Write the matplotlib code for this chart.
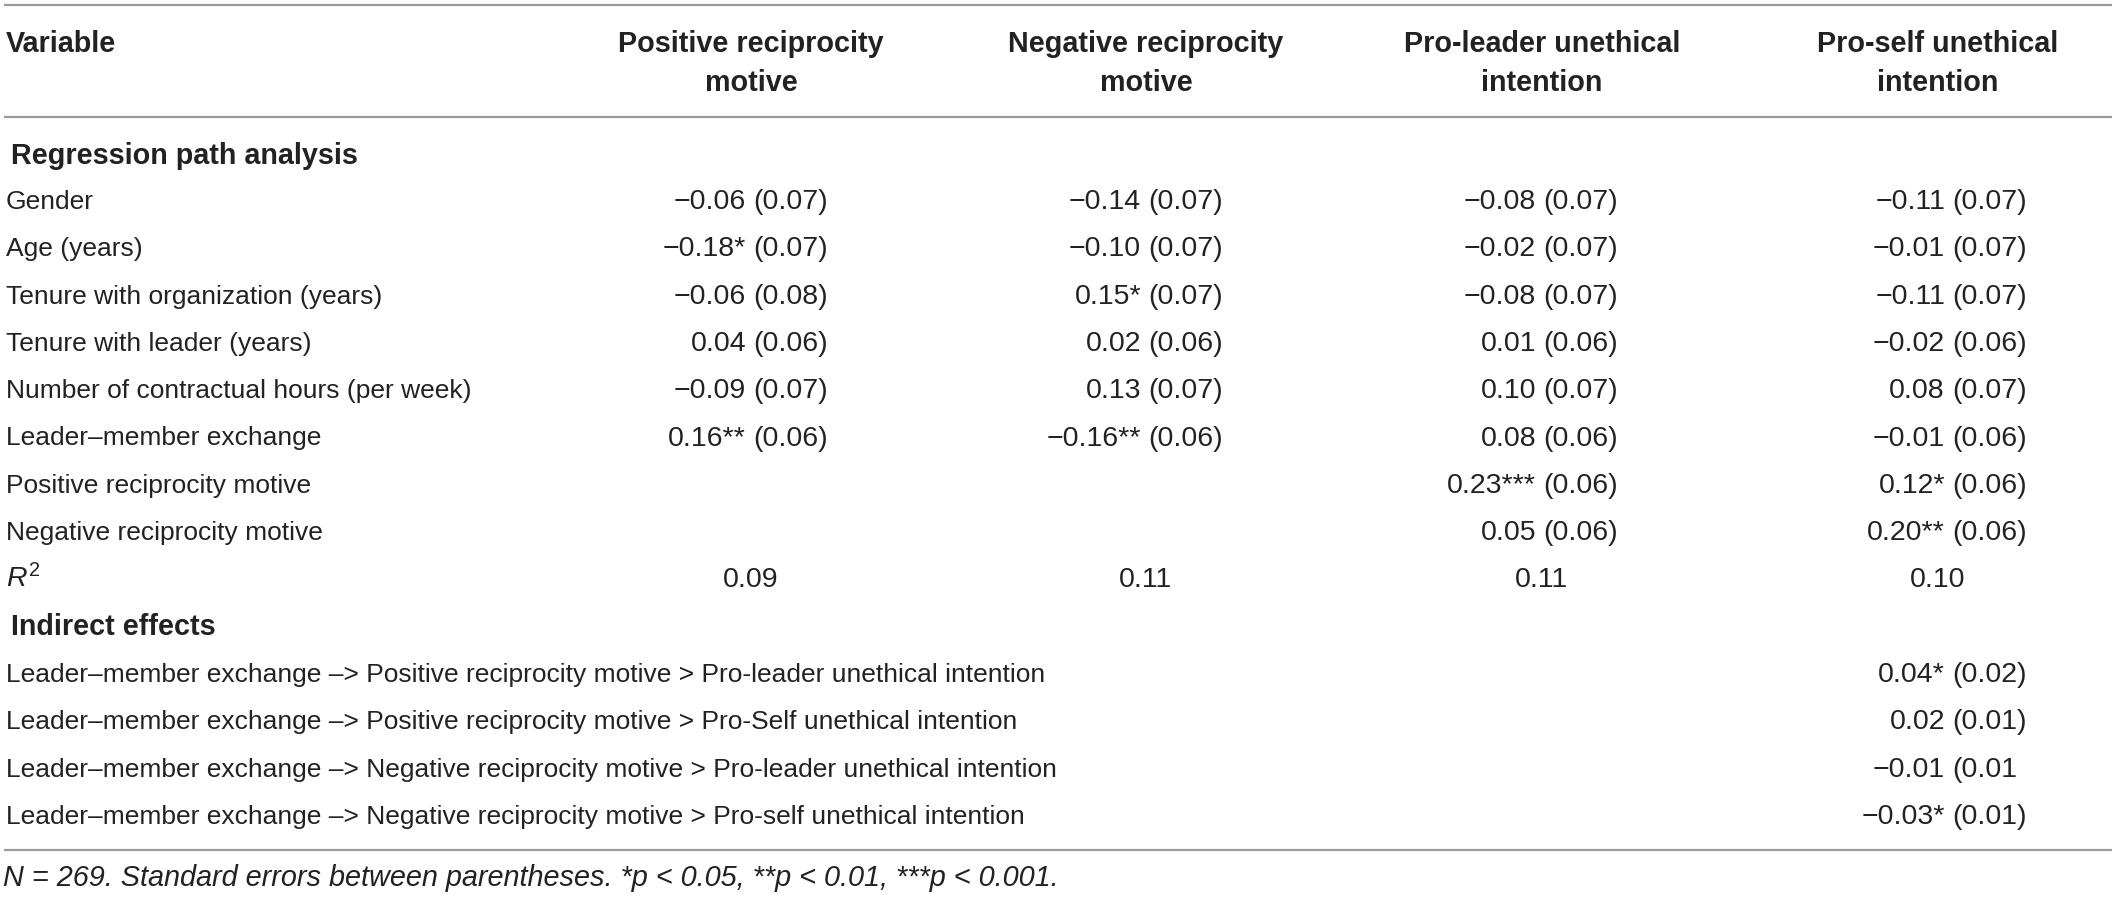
import matplotlib
matplotlib.use("Agg")
import matplotlib.pyplot as plt

plt.rcParams["font.family"] = ["Liberation Sans", "DejaVu Sans"]
plt.rcParams["mathtext.fontset"] = "custom"
plt.rcParams["mathtext.rm"] = "Liberation Sans"
plt.rcParams["mathtext.it"] = "Liberation Sans:italic"

# table content
col_headers = ["Positive reciprocity\nmotive", "Negative reciprocity\nmotive",
               "Pro-leader unethical\nintention", "Pro-self unethical\nintention"]
row_labels = ["Gender", "Age (years)", "Tenure with organization (years)",
              "Tenure with leader (years)", "Number of contractual hours (per week)",
              "Leader\u2013member exchange", "Positive reciprocity motive",
              "Negative reciprocity motive"]

# coefficient strings, one list per outcome column ("" = empty cell)
pos_coef = ["\u22120.06", "\u22120.18*", "\u22120.06", "0.04", "\u22120.09", "0.16**", "", ""]
pos_se = ["(0.07)", "(0.07)", "(0.08)", "(0.06)", "(0.07)", "(0.06)", "", ""]
neg_coef = ["\u22120.14", "\u22120.10", "0.15*", "0.02", "0.13", "\u22120.16**", "", ""]
neg_se = ["(0.07)", "(0.07)", "(0.07)", "(0.06)", "(0.07)", "(0.06)", "", ""]
lead_coef = ["\u22120.08", "\u22120.02", "\u22120.08", "0.01", "0.10", "0.08", "0.23***", "0.05"]
lead_se = ["(0.07)", "(0.07)", "(0.07)", "(0.06)", "(0.07)", "(0.06)", "(0.06)", "(0.06)"]
self_coef = ["\u22120.11", "\u22120.01", "\u22120.11", "\u22120.02", "0.08", "\u22120.01", "0.12*", "0.20**"]
self_se = ["(0.07)", "(0.07)", "(0.07)", "(0.06)", "(0.07)", "(0.06)", "(0.06)", "(0.06)"]
r_squared = ["0.09", "0.11", "0.11", "0.10"]

indirect_labels = [
    "Leader\u2013member exchange \u2013> Positive reciprocity motive > Pro-leader unethical intention",
    "Leader\u2013member exchange \u2013> Positive reciprocity motive > Pro-Self unethical intention",
    "Leader\u2013member exchange \u2013> Negative reciprocity motive > Pro-leader unethical intention",
    "Leader\u2013member exchange \u2013> Negative reciprocity motive > Pro-self unethical intention",
]
indirect_coef = ["0.04*", "0.02", "\u22120.01", "\u22120.03*"]
indirect_se = ["(0.02)", "(0.01)", "(0.01", "(0.01)"]

note = "N = 269. Standard errors between parentheses. *p < 0.05, **p < 0.01, ***p < 0.001."

W, H = 2118, 898
fig = plt.figure(figsize=(W / 100, H / 100), dpi=100)
ax = fig.add_axes([0, 0, 1, 1])
ax.set_xlim(0, W)
ax.set_ylim(H, 0)
ax.axis("off")

TXT = "#222222"
RULE = "#9a9a9a"
FS = 19        # row labels
FS_B = 20.7    # bold headers
FS_N = 20.5    # numbers
FS_NOTE = 20.8
col_x = [751, 1146, 1542, 1938]
paren_x = [753, 1148, 1543, 1952]
left_x = 6
row_h = 47.3
first_row = 200
base_off = 9

for y in (5, 117, 850):
    ax.plot([4, 2112], [y, y], color=RULE, lw=1.6, solid_capstyle="butt")

# header
ax.text(left_x, 43 + base_off, "Variable", fontsize=FS_B, fontweight="bold", color=TXT, va="baseline")
for cx, hdr in zip(col_x, col_headers):
    l1, l2 = hdr.split("\n")
    ax.text(cx, 43 + base_off, l1, fontsize=FS_B, fontweight="bold", color=TXT, ha="center", va="baseline")
    ax.text(cx, 82 + base_off, l2, fontsize=FS_B, fontweight="bold", color=TXT, ha="center", va="baseline")

ax.text(left_x + 5, 155 + base_off, "Regression path analysis", fontsize=FS_B, fontweight="bold",
        color=TXT, va="baseline")


def cell(px, y, coef, se):
    # coefficient right of the parenthesis anchor, SE left of it
    if coef:
        ax.text(px - 7, y + base_off, coef, fontsize=FS_N, color=TXT, ha="right", va="baseline")
    if se:
        ax.text(px, y + base_off, se, fontsize=FS_N, color=TXT, ha="left", va="baseline")


coefs = [pos_coef, neg_coef, lead_coef, self_coef]
ses = [pos_se, neg_se, lead_se, self_se]
for i, lab in enumerate(row_labels):
    y = first_row + i * row_h
    ax.text(left_x, y + base_off, lab, fontsize=FS, color=TXT, va="baseline")
    for j in range(4):
        cell(paren_x[j], y, coefs[j][i], ses[j][i])

y_r2 = first_row + len(row_labels) * row_h
ax.text(left_x, y_r2 + base_off, r"$\mathit{R}^{2}$", fontsize=FS_N, color=TXT, va="baseline")
for cx, r2 in zip(col_x, r_squared):
    ax.text(cx, y_r2 + base_off, r2, fontsize=FS_N, color=TXT, ha="center", va="baseline")

y_ind = y_r2 + row_h
ax.text(left_x + 5, y_ind + base_off, "Indirect effects", fontsize=FS_B, fontweight="bold",
        color=TXT, va="baseline")
for k, lab in enumerate(indirect_labels):
    y = y_ind + (k + 1) * row_h
    ax.text(left_x, y + base_off, lab, fontsize=FS, color=TXT, va="baseline")
    cell(paren_x[3], y, indirect_coef[k], indirect_se[k])

ax.text(3, 877 + base_off, note, fontsize=FS_NOTE, style="italic", color=TXT, va="baseline")

fig.savefig("out.png", dpi=100, facecolor="white")
